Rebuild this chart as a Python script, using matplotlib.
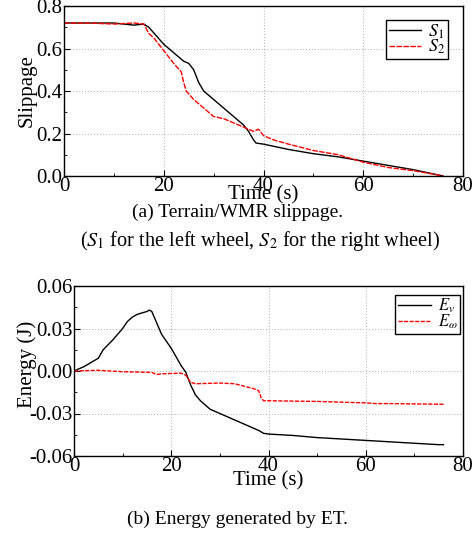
import matplotlib
matplotlib.use('Agg')
import matplotlib.pyplot as plt
from matplotlib.ticker import MultipleLocator, FormatStrFormatter

plt.rcParams['font.family'] = ['Liberation Serif', 'DejaVu Serif']
plt.rcParams['mathtext.fontset'] = 'stix'
plt.rcParams['axes.unicode_minus'] = False

# (a) slippage
t_s1 = [0, 5, 10, 14, 16, 17, 20, 22, 24, 25, 26, 27, 28, 29, 30, 32, 34, 36, 37, 38, 38.5,
        40, 42, 45, 50, 55, 60, 65, 70, 75, 76]
s1 = [0.72, 0.72, 0.72, 0.71, 0.715, 0.70, 0.62, 0.58, 0.54, 0.53, 0.50, 0.44, 0.40, 0.38, 0.36,
      0.32, 0.28, 0.24, 0.21, 0.17, 0.155, 0.15, 0.14, 0.125, 0.105, 0.09, 0.07, 0.05, 0.03, 0.005, 0.0]
t_s2 = [0, 5, 10, 14, 16, 17, 18, 20, 22, 23.5, 24, 24.5, 26, 28, 30, 32, 34, 36, 38, 39, 40,
        42, 45, 50, 55, 60, 65, 70, 75, 76]
s2 = [0.72, 0.72, 0.715, 0.72, 0.715, 0.67, 0.65, 0.59, 0.53, 0.49, 0.44, 0.40, 0.36, 0.32, 0.28,
      0.27, 0.25, 0.23, 0.21, 0.22, 0.19, 0.17, 0.15, 0.12, 0.10, 0.065, 0.04, 0.025, 0.005, 0.0]

# (b) energy
t_ev = [0, 2, 4, 5, 6, 8, 10, 11, 12, 13, 14, 15, 15.5, 16, 17, 18, 20, 22, 23, 24, 25, 26,
        28, 30, 32, 34, 36, 38, 39, 40, 45, 50, 55, 60, 65, 70, 75, 76]
ev = [0.0, 0.003, 0.007, 0.009, 0.015, 0.022, 0.030, 0.035, 0.038, 0.040, 0.041, 0.042, 0.043,
      0.042, 0.034, 0.026, 0.016, 0.004, -0.001, -0.010, -0.017, -0.021, -0.027, -0.030, -0.033,
      -0.036, -0.039, -0.042, -0.044, -0.0445, -0.0455, -0.047, -0.048, -0.049, -0.050, -0.051,
      -0.052, -0.052]
t_ew = [0, 5, 10, 16, 17, 18, 22, 23, 24, 25, 30, 33, 37, 38, 38.5, 39, 40, 50, 55, 60, 62, 65, 76]
ew = [0.0, 0.0005, -0.0005, -0.001, -0.0025, -0.002, -0.0015, -0.003, -0.008, -0.009, -0.0085,
      -0.009, -0.0125, -0.014, -0.019, -0.021, -0.021, -0.0215, -0.022, -0.0225, -0.023, -0.023,
      -0.0235]

fig = plt.figure(figsize=(4.75, 5.36), dpi=100)
W, H = 475, 536
ax1 = fig.add_axes([64 / W, 1 - 176 / H, (463 - 64) / W, 170 / H])
ax2 = fig.add_axes([74 / W, 1 - 456 / H, (463 - 74) / W, 170 / H])


def style(ax):
    ax.set_xlim(0, 80)
    ax.xaxis.set_major_locator(MultipleLocator(20))
    ax.xaxis.set_minor_locator(MultipleLocator(10))
    ax.tick_params(which='both', direction='in', labelsize=15, pad=1)
    ax.tick_params(which='major', length=4)
    ax.tick_params(which='minor', length=2)
    ax.grid(True, which='major', linestyle=':', color='#bbbbbb', linewidth=0.8)
    for sp in ax.spines.values():
        sp.set_linewidth(1.0)


ax1.plot(t_s1, s1, color='black', lw=1.0, label='$S_1$')
ax1.plot(t_s2, s2, color='red', lw=1.0, ls='--', dashes=(4, 1), label='$S_2$')
style(ax1)
ax1.set_xlabel('Time (s)', fontsize=15, labelpad=-8)
ax1.set_ylim(0, 0.8)
ax1.yaxis.set_major_locator(MultipleLocator(0.2))
ax1.yaxis.set_minor_locator(MultipleLocator(0.1))
ax1.yaxis.set_major_formatter(FormatStrFormatter('%.1f'))
ax1.set_ylabel('Slippage', fontsize=15, labelpad=0)
leg = ax1.legend(loc='upper right', bbox_to_anchor=(0.963, 0.92), fancybox=False,
                 edgecolor='black', framealpha=1, fontsize=13, handlelength=1.8,
                 borderpad=0.15, labelspacing=-0.15, handletextpad=0.4, borderaxespad=0)
leg.get_frame().set_linewidth(1.0)

ax2.plot(t_ev, ev, color='black', lw=1.0, label='$E_v$')
ax2.plot(t_ew, ew, color='red', lw=1.0, ls='--', dashes=(3, 1), label='$E_\\omega$')
style(ax2)
ax2.set_xlabel('Time (s)', fontsize=15, labelpad=-4)
ax2.set_ylim(-0.06, 0.06)
ax2.yaxis.set_major_locator(MultipleLocator(0.03))
ax2.yaxis.set_minor_locator(MultipleLocator(0.015))
ax2.yaxis.set_major_formatter(FormatStrFormatter('%.2f'))
ax2.set_ylabel('Energy (J)', fontsize=15)
ax2.yaxis.set_label_coords(-0.095, 0.54)
leg2 = ax2.legend(loc='upper right', bbox_to_anchor=(0.992, 0.95), fancybox=False,
                  edgecolor='black', framealpha=1, fontsize=12, handlelength=2.0,
                  borderpad=0.15, labelspacing=-0.15, handletextpad=0.4, borderaxespad=0)
leg2.get_frame().set_linewidth(1.0)

fig.text(237 / W, 1 - 212 / H, '(a) Terrain/WMR slippage.', ha='center', va='center', fontsize=14)
fig.text(260 / W, 1 - 241 / H, '($S_1$ for the left wheel, $S_2$ for the right wheel)',
         ha='center', va='center', fontsize=14.6)
fig.text(237 / W, 1 - 519 / H, '(b) Energy generated by ET.', ha='center', va='center', fontsize=14)

fig.savefig('out.png', dpi=100)
